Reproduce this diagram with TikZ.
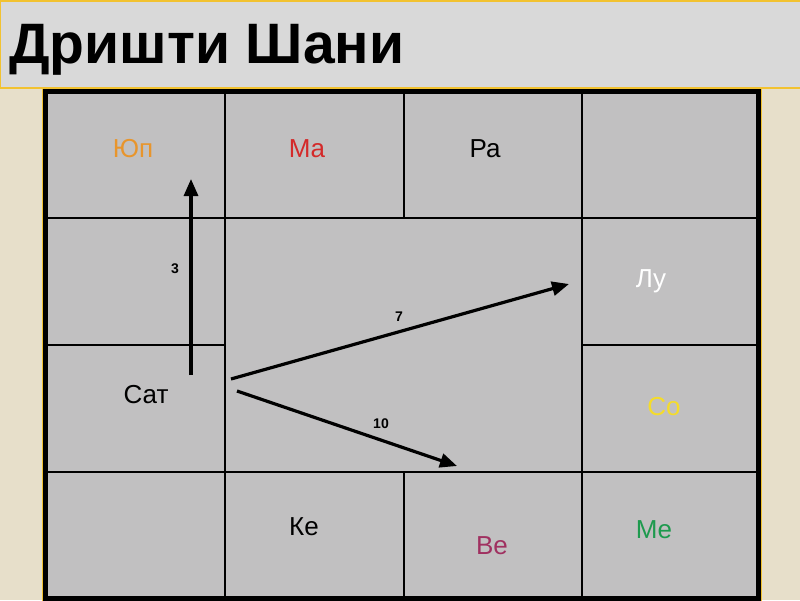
\documentclass[tikz,border=0pt]{standalone}
\usepackage{fontspec}
\setmainfont{Liberation Sans}
\usetikzlibrary{arrows.meta}
\definecolor{bgbeige}{HTML}{E7DFCA}
\definecolor{titlegray}{HTML}{D9D9D9}
\definecolor{gold}{HTML}{F2C230}
\definecolor{cellgray}{HTML}{C1C0C1}
\definecolor{cjup}{HTML}{E8952C}
\definecolor{cmar}{HTML}{D42A2A}
\definecolor{cso}{HTML}{F5DC2A}
\definecolor{cme}{HTML}{1E9A4E}
\definecolor{cve}{HTML}{A03060}
\tikzset{
  cell/.style={draw=black, line width=2.8pt, fill=cellgray},
  planet/.style={font=\fontsize{26}{26}\selectfont, anchor=base},
  num/.style={font=\bfseries\fontsize{14}{14}\selectfont, anchor=base},
  aspect/.style={line width=3.2pt, -{Triangle[length=17pt,width=14pt]}},
}
\begin{document}
\begin{tikzpicture}[x=1pt,y=-1pt]
\useasboundingbox (0,0) rectangle (800,600);
\fill[bgbeige] (0,0) rectangle (800,600);
% title bar
\draw[gold, line width=2.5pt, fill=titlegray] (0,1) rectangle (802,88);
\node[anchor=base west, inner sep=0pt, font=\bfseries\fontsize{57}{57}\selectfont] (title) at (9,63) {Дришти Шани};
% gold frame around grid
\draw[gold, line width=1.2pt] (43,89) -- (43,602);
\draw[gold, line width=1.2pt] (761,89) -- (761,602);
% cells
\path[cell] (45,91) rectangle (225,218);
\path[cell] (225,91) rectangle (404,218);
\path[cell] (404,91) rectangle (582,218);
\path[cell] (582,91) rectangle (758,218);
\path[cell] (45,218) rectangle (225,345);
\path[cell] (225,218) rectangle (582,472);
\path[cell] (582,218) rectangle (758,345);
\path[cell] (45,345) rectangle (225,472);
\path[cell] (582,345) rectangle (758,472);
\path[cell] (45,472) rectangle (225,598);
\path[cell] (225,472) rectangle (404,598);
\path[cell] (404,472) rectangle (582,598);
\path[cell] (582,472) rectangle (758,598);
\draw[line width=5pt] (45,91) rectangle (758,598);
% planets
\node[planet, text=cjup] (jup) at (133,157) {Юп};
\node[planet, text=cmar] (mar) at (307,157) {Ма};
\node[planet, text=black] (ra) at (485,157) {Ра};
\node[planet, text=white] (lu) at (651,287) {Лу};
\node[planet, text=cso] (so) at (664,415) {Со};
\node[planet, text=cme] (me) at (654,538) {Ме};
\node[planet, text=cve] (ve) at (492,554) {Ве};
\node[planet, text=black] (ke) at (304,535) {Ке};
\node[planet, text=black] (sat) at (146,403) {Сат};
% aspect arrows
\coordinate (s3) at (191,375);
\coordinate (e3) at (191,179);
\coordinate (s7) at (231,379);
\coordinate (e7) at (569,284);
\coordinate (s10) at (237,391);
\coordinate (e10) at (457,466);
\draw[aspect] (s3) -- (e3);
\draw[aspect] (s7) -- (e7);
\draw[aspect] (s10) -- (e10);
\node[num] (n3) at (175,273) {3};
\node[num] (n7) at (399,321) {7};
\node[num] (n10) at (381,428) {10};
\end{tikzpicture}
\end{document}
